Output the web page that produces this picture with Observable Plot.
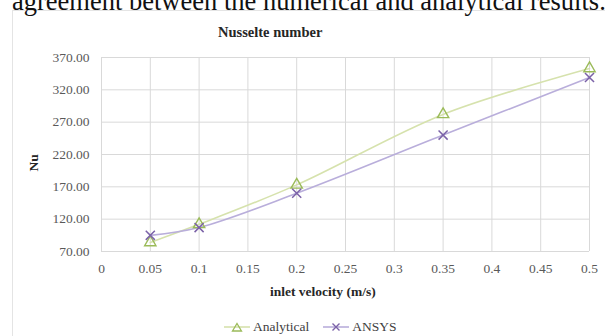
<!DOCTYPE html>
<html>
<head>
<meta charset="utf-8">
<script src="https://cdn.jsdelivr.net/npm/d3@7"></script>
<script src="https://cdn.jsdelivr.net/npm/@observablehq/plot@0.6"></script>
<style>
  html, body { margin: 0; padding: 0; background: #fff; }
  #wrap { position: relative; width: 605px; height: 336px; overflow: hidden; background: #fff; font-family: "Liberation Serif", "Times New Roman", serif; }
  #wrap > svg, #wrap > figure { position: absolute; left: 0; top: 0; margin: 0; }
  .abs { position: absolute; white-space: nowrap; line-height: 1; }
  #border { position: absolute; left: 12px; top: 10px; width: 620px; height: 340px; border: 1px solid #e4e4e4; box-sizing: border-box; }
  #toptext { left: 12px; top: -12px; font-size: 26.5px; color: #111; }
  #title { left: 218px; top: 25px; font-size: 14.5px; font-weight: bold; color: #262626; }
  #xtitle { left: 270px; top: 285px; font-size: 13.5px; font-weight: bold; color: #262626; }
  #ytitle { left: 25px; top: 156px; font-size: 13.5px; font-weight: bold; color: #262626; transform: rotate(-90deg); transform-origin: 50% 50%; }
  #legend { left: 224px; top: 319px; font-size: 13.5px; color: #404040; display: flex; align-items: center; }
  #legend .item { display: flex; align-items: center; margin-right: 14px; }
  #legend svg { margin-right: 3px; }
</style>
</head>
<body>
<div id="wrap">
  <div id="border"></div>
  <div id="toptext" class="abs">agreement between the numerical and analytical results.</div>
  <div id="title" class="abs">Nusselte number</div>
  <div id="xtitle" class="abs">inlet velocity (m/s)</div>
  <div id="ytitle" class="abs">Nu</div>
  <div id="legend" class="abs"></div>
</div>
<script>
// ---- data ----
const velocity = [0.05, 0.1, 0.2, 0.35, 0.5];
const analytical = [84, 112, 173, 282, 353];
const ansys = [95, 107, 160, 250, 339];
const seriesNames = ["Analytical", "ANSYS"];
const xTicks = [0, 0.05, 0.1, 0.15, 0.2, 0.25, 0.3, 0.35, 0.4, 0.45, 0.5];
const yTicks = [70, 120, 170, 220, 270, 320, 370];

const colors = {
  Analytical: { line: "#d6e2ad", mark: "#9bbb59" },
  ANSYS: { line: "#b9aedb", mark: "#7b62a8" }
};

const rowsA = velocity.map((v, i) => ({ v, nu: analytical[i] }));
const rowsB = velocity.map((v, i) => ({ v, nu: ansys[i] }));

const chart = Plot.plot({
  width: 605,
  height: 336,
  marginLeft: 101,
  marginRight: 16,
  marginTop: 57,
  marginBottom: 85,
  style: { fontFamily: "Liberation Serif, Times New Roman, serif", fontSize: "13.5px", color: "#595959", background: "transparent" },
  x: { domain: [0, 0.5] },
  y: { domain: [70, 370] },
  marks: [
    Plot.gridX(xTicks, { stroke: "#d9d9d9", strokeOpacity: 1 }),
    Plot.gridY(yTicks, { stroke: "#d9d9d9", strokeOpacity: 1 }),
    Plot.axisX(xTicks, { tickSize: 0, tickPadding: 12, label: null, tickFormat: d => String(+d.toFixed(2)) }),
    Plot.axisY(yTicks, { tickSize: 0, tickPadding: 12, label: null, tickFormat: d3.format(".2f") }),
    Plot.line(rowsA, { x: "v", y: "nu", stroke: colors.Analytical.line, strokeWidth: 1.6, curve: "catmull-rom" }),
    Plot.line(rowsB, { x: "v", y: "nu", stroke: colors.ANSYS.line, strokeWidth: 1.6, curve: "catmull-rom" }),
    Plot.dot(rowsA, { x: "v", y: "nu", symbol: "triangle", r: 4.2, fill: "none", stroke: colors.Analytical.mark, strokeWidth: 1.4 }),
    Plot.dot(rowsB, { x: "v", y: "nu", symbol: "times", r: 4.2, stroke: colors.ANSYS.mark, strokeWidth: 1.5 })
  ]
});
const wrap = document.getElementById("wrap");
wrap.insertBefore(chart, wrap.firstChild.nextSibling);

// legend
const legend = document.getElementById("legend");
const sym = {
  Analytical: `<path d="M13,4.5 L17.5,12 L8.5,12 Z" fill="none" stroke="${colors.Analytical.mark}" stroke-width="1.3"/>`,
  ANSYS: `<path d="M9.5,4.5 L16.5,11.5 M16.5,4.5 L9.5,11.5" stroke="${colors.ANSYS.mark}" stroke-width="1.4"/>`
};
seriesNames.forEach(name => {
  const item = document.createElement("div");
  item.className = "item";
  item.innerHTML = `<svg width="26" height="16"><line x1="0" x2="26" y1="8" y2="8" stroke="${colors[name].line}" stroke-width="1.6"/>${sym[name]}</svg><span>${name}</span>`;
  legend.appendChild(item);
});
</script>
</body>
</html>
